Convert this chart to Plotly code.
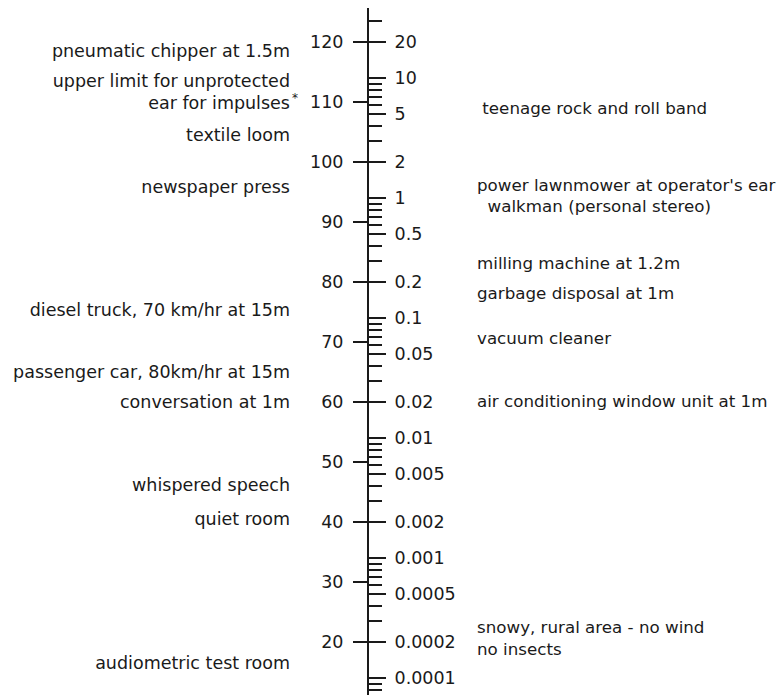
import plotly.graph_objects as go
import numpy as np

# ---------------- data ----------------
db_ticks = [10, 20, 30, 40, 50, 60, 70, 80, 90, 100, 110, 120]
pa_label_vals = [20, 10, 5, 2, 1, 0.5, 0.2, 0.1, 0.05, 0.02, 0.01, 0.005,
                 0.002, 0.001, 0.0005, 0.0002, 0.0001]
pa_label_text = ["20", "10", "5", "2", "1", "0.5", "0.2", "0.1", "0.05", "0.02",
                 "0.01", "0.005", "0.002", "0.001", "0.0005", "0.0002", "0.0001"]
pa_minor_mult = [2, 3, 4, 5, 6, 7, 8, 9]
pa_minor_decades = [-5, -4, -3, -2, -1, 0, 1]

left_labels = ["pneumatic chipper at 1.5m",
               "upper limit for unprotected<br>ear for impulses",
               "textile loom",
               "newspaper press",
               "diesel truck, 70 km/hr at 15m",
               "passenger car, 80km/hr at 15m",
               "conversation at 1m",
               "whispered speech",
               "quiet room",
               "audiometric test room"]
left_db = [118.3, 111.4, 104.2, 95.5, 75.0, 64.7, 59.7, 45.9, 40.2, 16.2]

right_labels = ["\u00a0teenage rock and roll band",
                "power lawnmower at operator's ear",
                "\u00a0\u00a0walkman (personal stereo)",
                "milling machine at 1.2m",
                "garbage disposal at 1m",
                "vacuum cleaner",
                "air conditioning window unit at 1m",
                "snowy, rural area - no wind<br>no insects"]
right_db = [108.7, 95.8, 92.3, 82.9, 77.9, 70.4, 59.9, 20.3]

# ---------------- layout constants ----------------
# the page places the figure 8 px in from the top-left corner
W, H = 784, 695
AXIS_X = 360
LEFT_TEXT_X = 282
RIGHT_TEXT_X = 469
DB_RANGE = [9.83, 125.67]
P_REF = 20e-6
FONT = "DejaVu Sans"
FS = 17.5
FS_RIGHT = 16.7
INK = "#1a1a1a"

pa_minor = [m * 10.0 ** d for d in pa_minor_decades for m in pa_minor_mult]
pa_minor = [v for v in pa_minor if not any(abs(v - t) / t < 1e-6 for t in pa_label_vals)]
pa_range = [np.log10(P_REF) + DB_RANGE[0] / 20, np.log10(P_REF) + DB_RANGE[1] / 20]

fig = go.Figure()

fig.add_trace(go.Scatter(
    x=[LEFT_TEXT_X] * len(left_labels), y=left_db, text=left_labels,
    mode="text", textposition="middle left", cliponaxis=False,
    textfont=dict(family=FONT, size=FS, color=INK), hoverinfo="skip",
    showlegend=False))

fig.add_trace(go.Scatter(
    x=[RIGHT_TEXT_X] * len(right_labels), y=right_db, text=right_labels,
    mode="text", textposition="middle right", cliponaxis=False,
    textfont=dict(family=FONT, size=FS_RIGHT, color=INK), hoverinfo="skip",
    showlegend=False))

# anchor trace for the pressure axis
fig.add_trace(go.Scatter(
    x=[AXIS_X], y=[pa_label_vals[0]], yaxis="y2", mode="markers",
    marker=dict(opacity=0), hoverinfo="skip", showlegend=False))

fig.update_layout(
    width=W, height=H,
    margin=dict(l=0, r=0, t=0, b=0),
    paper_bgcolor="white", plot_bgcolor="white",
    xaxis=dict(range=[0, W], visible=False, fixedrange=True),
    yaxis=dict(
        range=DB_RANGE, anchor="free", position=AXIS_X / W, side="left",
        showline=True, linewidth=2, linecolor=INK,
        ticks="outside", ticklen=14, tickwidth=2, tickcolor=INK,
        tickmode="array", tickvals=db_ticks,
        ticktext=[str(v) for v in db_ticks],
        tickfont=dict(family=FONT, size=FS, color=INK),
        showgrid=False, zeroline=False, ticklabelstandoff=6),
    yaxis2=dict(
        type="log", range=pa_range, overlaying="y", anchor="free",
        position=AXIS_X / W, side="right", showline=False,
        ticks="outside", ticklen=17, tickwidth=2, tickcolor=INK,
        tickmode="array", tickvals=pa_label_vals, ticktext=pa_label_text,
        tickfont=dict(family=FONT, size=FS, color=INK),
        minor=dict(tickmode="array", tickvals=pa_minor, ticks="outside",
                   ticklen=13, tickwidth=2, tickcolor=INK, showgrid=False),
        showgrid=False, zeroline=False, ticklabelstandoff=5),
)

# superscript asterisk after "impulses"
fig.add_annotation(x=LEFT_TEXT_X, y=left_db[1], xref="x", yref="y",
                   text="*", showarrow=False, xanchor="left", yanchor="middle",
                   yshift=-4, font=dict(family=FONT, size=12, color=INK))

fig.write_html("out.html")
